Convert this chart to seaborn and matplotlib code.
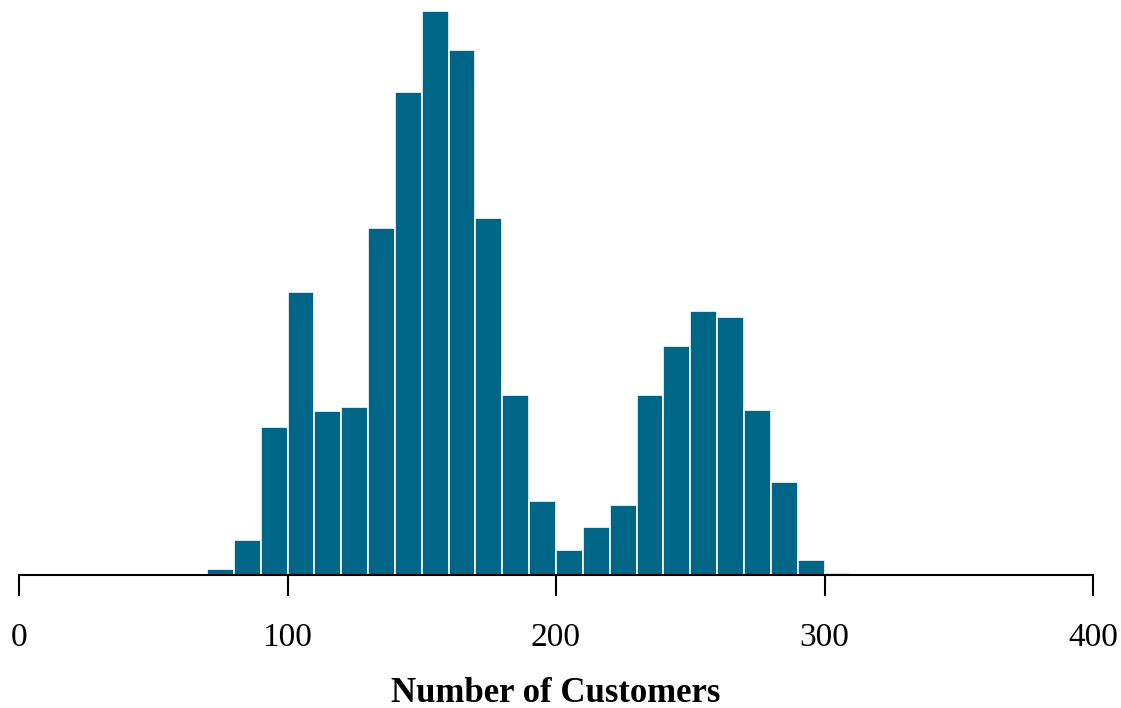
import numpy as np
import matplotlib
matplotlib.use("Agg")
import matplotlib.pyplot as plt
import seaborn as sns

# Bin edges (width 10) and counts
bin_edges = list(range(70, 320, 10))
counts = [6, 35, 148, 284, 164, 168, 348, 484, 565, 526, 358, 180, 74,
          25, 48, 70, 180, 229, 264, 258, 165, 93, 15, 2]
bin_centers = [e + 5 for e in bin_edges[:-1]]
xticks = [0, 100, 200, 300, 400]

sns.set_theme(style="white")
plt.rcParams['font.family'] = ['Liberation Serif', 'DejaVu Serif']

fig = plt.figure(figsize=(11.21, 7.08), dpi=100)
ax = fig.add_axes([19/1121, (708-575)/708, (1093-19)/1121, (575-11)/708])

sns.histplot(x=bin_centers, weights=counts, bins=bin_edges, ax=ax,
             color="#006687", alpha=1, edgecolor="white", linewidth=1.2)

ax.set_xlim(0, 400)
ax.set_ylim(0, max(counts))
ax.set_xticks(xticks)
ax.set_xticklabels([str(t) for t in xticks], fontsize=24, color="black")
ax.set_yticks([])
ax.set_ylabel("")
ax.set_xlabel("Number of Customers", fontsize=25, fontweight="bold",
              labelpad=17.5, color="black")
for s in ["top", "right", "left"]:
    ax.spines[s].set_visible(False)
ax.spines["bottom"].set_color("black")
ax.spines["bottom"].set_linewidth(1.5)
ax.tick_params(axis="x", bottom=True, length=15, width=1.5, color="black", pad=19)

fig.savefig("out.png", dpi=100)
